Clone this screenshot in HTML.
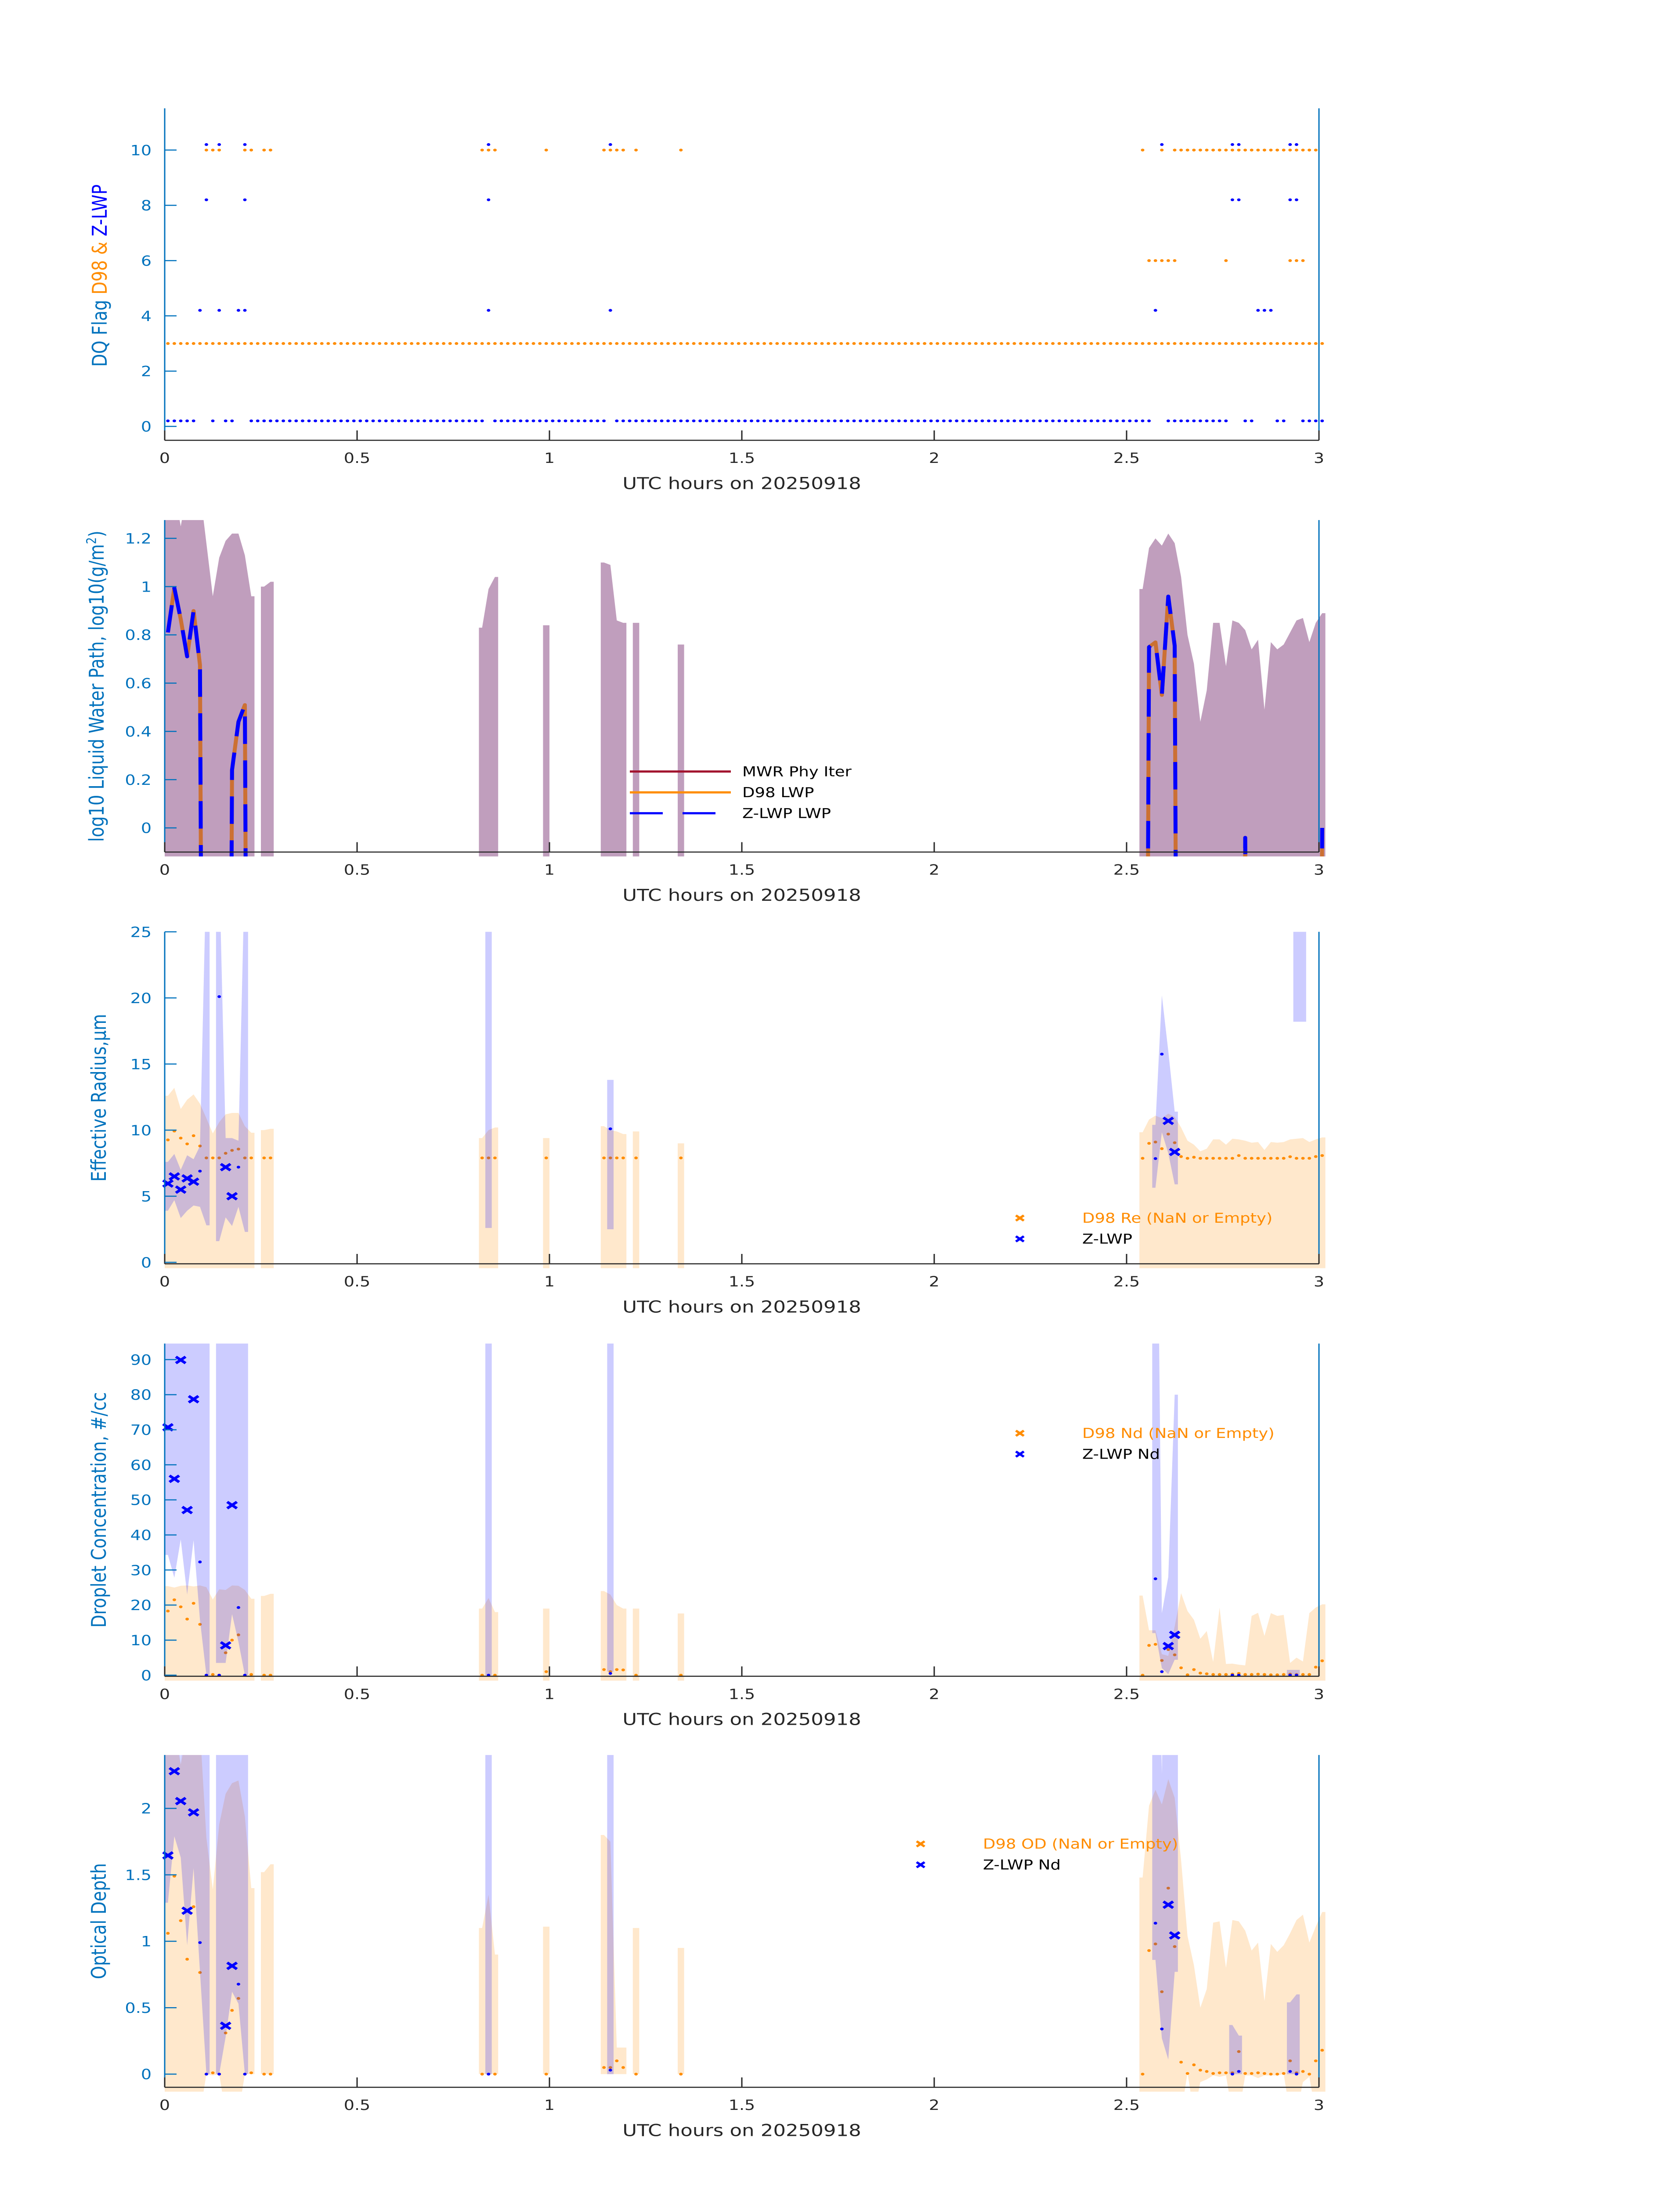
<!DOCTYPE html>
<html><head><meta charset="utf-8"><title>DQ flags and cloud retrievals</title>
<style>
html,body{margin:0;padding:0;background:#fff;width:100%;height:100%;overflow:hidden;}
svg{display:block;position:fixed;left:0;top:0;width:100vw;height:100vh;font-family:"DejaVu Sans","Liberation Sans",sans-serif;}
</style>
</head><body>
<svg id="chart" xmlns="http://www.w3.org/2000/svg" viewBox="0 0 3825 6000" preserveAspectRatio="none" overflow="hidden">
<rect x="0" y="0" width="3825" height="6000" fill="#fff"/>
</svg>
<script>
// ---------- shared axis ----------
const xTickVals = [0, 0.5, 1, 1.5, 2, 2.5, 3];
const xTickLabels = ['0', '0.5', '1', '1.5', '2', '2.5', '3'];
const xAxisTitle = 'UTC hours on 20250918';

// ---------- panel 1: DQ flags ----------
const d98Flag3Range = [0, 180];
const d98FlagLevelBase = 3;
const d98FlagLevelHigh = 10;
const d98FlagLevelMid = 6;
const d98Flag10Idx = [6,7,8,12,13,15,16,49,50,51,59,68,69,70,71,73,80,152,155,157,158,159,160,161,162,163,164,165,166,167,168,169,170,171,172,173,174,175,176,177,178,179];
const d98Flag6Idx = [153,154,155,156,157,165,175,176,177];
const zFlagOffset = 0.2;
const zFlag10Idx = [6,8,12,50,69,155,166,167,175,176];
const zFlag8Idx = [6,12,50,166,167,175,176];
const zFlag4Idx = [5,8,11,12,50,69,154,170,171,172];
const zFlag0Ranges = [[0,4],[7,7],[9,10],[13,49],[51,68],[70,153],[156,165],[168,169],[173,174],[177,180]];
const p1YTicks = [0,2,4,6,8,10];

// ---------- panel 2: LWP ----------
const mwrIdx = [0,1,2,3,4,5,6,7,8,9,10,11,12,13,15,16,49,50,51,59,68,69,70,71,73,80,152,153,154,155,156,157,158,159,160,161,162,163,164,165,166,167,168,169,170,171,172,173,174,175,176,177,178,179,180];
const mwrUpper = [1.4,1.4,1.25,1.4,1.4,1.4,1.18,0.96,1.12,1.19,1.22,1.22,1.13,0.96,1.0,1.02,0.83,0.99,1.04,0.84,1.1,1.09,0.86,0.85,0.85,0.76,0.99,1.16,1.2,1.17,1.22,1.18,1.04,0.80,0.68,0.44,0.57,0.85,0.85,0.67,0.86,0.85,0.82,0.74,0.78,0.49,0.77,0.74,0.76,0.81,0.86,0.87,0.77,0.85,0.89];
const lwpIdx = [0,1,2,3,4,5,6,7,8,9,10,11,12,13,152,153,154,155,156,157,158,167,168,169,179,180];
const d98Lwp = [0.81,0.995,0.865,0.71,0.90,0.675,-5,-5,-5,-5,0.24,0.44,0.51,-5,-5,0.75,0.77,0.55,0.96,0.755,-5,-5,-0.04,-5,-5,0.0];
const zLwp = [0.81,0.995,0.865,0.71,0.90,0.675,-5,-5,-5,-5,0.24,0.44,0.51,-5,-5,0.75,0.77,0.55,0.96,0.755,-5,-5,-0.04,-5,-5,0.0];
const p2YTicks = [0,0.2,0.4,0.6,0.8,1,1.2];
const p2YTickLabels = ['0','0.2','0.4','0.6','0.8','1','1.2'];

// ---------- panel 3: Re ----------
const d98Idx = [0,1,2,3,4,5,6,7,8,9,10,11,12,13,15,16,49,50,51,59,68,69,70,71,73,80,152,153,154,155,156,157,158,159,160,161,162,163,164,165,166,167,168,169,170,171,172,173,174,175,176,177,178,179,180];
const d98ReUpper = [12.6,13.2,11.6,12.3,12.7,12.0,10.9,9.75,10.6,11.2,11.3,11.3,10.3,9.8,10.0,10.1,9.4,10.0,10.2,9.4,10.3,10.0,9.9,9.7,9.9,9.0,9.84,10.8,11.1,10.9,11.25,11.0,10.2,9.2,8.9,8.4,8.6,9.3,9.3,8.9,9.35,9.3,9.2,9.05,9.1,8.5,9.1,9.05,9.1,9.3,9.35,9.4,9.1,9.3,9.45];
const d98Re = [9.26,9.93,9.4,8.96,9.58,8.8,7.9,7.9,7.9,8.25,8.47,8.57,7.9,7.9,7.9,7.9,7.9,7.9,7.9,7.9,7.9,7.9,7.9,7.9,7.9,7.9,7.87,9.0,9.1,8.6,9.7,9.05,8.0,7.87,7.95,7.87,7.87,7.87,7.87,7.87,7.87,8.08,7.87,7.87,7.87,7.87,7.87,7.87,7.87,7.99,7.87,7.87,7.87,8.0,8.08];
const zReFillIdx = [0,1,2,3,4,5,6,8,9,10,11,12,50,69,154,155,156,157,176,177];
const zReUpper = [7.6,8.2,7.0,8.1,7.8,8.8,30,30,9.4,9.4,9.2,30,30,13.8,10.4,20.2,16,11.4,30,30];
const zReLower = [3.9,4.7,3.35,3.9,4.3,4.2,2.8,1.6,3.4,2.75,4.2,2.3,2.6,2.5,5.64,9.84,8.25,5.9,18.2,18.2];
const zReXIdx = [0,1,2,3,4,9,10,156,157];
const zReX = [5.96,6.5,5.5,6.35,6.1,7.2,5.0,10.7,8.35];
const zReDotIdx = [5,8,11,69,154,155];
const zReDot = [6.9,20.1,7.2,10.1,7.85,15.75];
const p3YTicks = [0,5,10,15,20,25];

// ---------- panel 4: Nd ----------
const d98NdUpper = [25.4,25,25.5,25.6,25.3,25.6,25.1,21.6,24.5,24.3,25.6,25.5,24.3,21.8,22.6,23.2,19,22,18,19,24,23,20,19,19,17.6,22.7,12.8,12.8,6,5.5,13.9,23.4,18.3,15.8,10.4,12.6,3.8,19.3,3.2,3.3,3,2.8,16.9,17.8,11.2,17.7,16.9,17.2,3.5,5,3.9,17.7,19.3,20.2];
const d98Nd = [18.3,21.5,19.5,16,20.5,14.5,0,0.2,0,6.4,10,11.5,0,0.2,0,0,0,0,0,1,1.6,1,1.6,1.5,0,0,0,8.5,8.8,4.2,7.3,5.8,2.1,0.1,1.6,0.6,0.4,0.2,0.2,0.2,0.3,0.5,0.2,0.2,0.3,0.2,0.1,0.1,0.2,0.3,0.2,0.2,0.2,2.3,4.1];
const zNdFillIdx = [0,1,2,3,4,5,6,8,9,10,11,12,50,69,154,155,156,157,175,176];
const zNdUpper = [200,200,200,200,200,200,200,200,200,200,200,200,200,200,200,17.7,28,80,1.5,1.5];
const zNdLower = [34.3,27.8,38.7,23,38.5,15.7,0,3.5,3.5,17.4,9.5,0,0,1,12,2,0.3,4.4,0,0];
const zNdXIdx = [0,1,2,3,4,9,10,156,157];
const zNdX = [70.7,56,89.9,47.1,78.7,8.5,48.5,8.3,11.5];
const zNdDotIdx = [5,6,8,11,12,50,69,154,155,166,167,175,176];
const zNdDot = [32.3,0,0,19.3,0,0,0.5,27.5,1,0,0,0,0];
const p4YTicks = [0,10,20,30,40,50,60,70,80,90];

// ---------- panel 5: OD ----------
const d98OdUpper = [2.6,2.6,2.33,2.6,2.6,2.6,1.78,1.39,1.88,2.11,2.19,2.21,1.94,1.40,1.52,1.58,1.1,1.35,0.9,1.11,1.8,1.75,0.2,0.2,1.1,0.95,1.48,2.02,2.14,2.03,2.22,2.08,1.61,1.04,0.82,0.5,0.64,1.14,1.15,0.8,1.16,1.15,1.08,0.93,0.99,0.55,0.98,0.92,0.97,1.06,1.16,1.2,0.99,1.11,1.22];
const d98OdLower = [-0.3,-0.3,-0.3,-0.3,-0.3,-0.3,0,-0.01,0,-0.3,-0.3,-0.3,0,0,0,0,0,0,0,0,0,0,0,0,0,0,-0.3,-0.3,-0.3,-0.3,-0.3,-0.3,-0.3,0.01,-0.3,-0.06,-0.04,-0.01,-0.02,-0.01,-0.3,-0.3,-0.01,-0.01,-0.03,-0.01,-0.01,-0.01,0,-0.3,-0.3,-0.06,-0.02,-0.3,-0.3];
const d98Od = [1.06,1.49,1.155,0.865,1.26,0.765,0,0.01,0,0.31,0.48,0.57,0,0.01,0,0,0,0,0,0,0.05,0.05,0.1,0.05,0,0,0,0.93,0.98,0.62,1.40,0.96,0.09,0.005,0.07,0.03,0.02,0.005,0.01,0.01,0.01,0.17,0.005,0.005,0.01,0.005,0,0,0.005,0.1,0.01,0.02,0,0.1,0.18];
const zOdFillIdx = [0,1,2,3,4,5,6,8,9,10,11,12,50,69,154,155,156,157,166,167,175,176];
const zOdUpper = [5,5,2.33,5,5,5,5,5,5,5,5,5,5,5,5,2.26,5,5,0.37,0.29,0.54,0.6];
const zOdLower = [1.29,1.79,1.63,0.97,1.55,0.77,0,0,0.28,0.62,0.53,0,0,0,0.86,0.27,0.11,0.77,0,0,0,0];
const zOdXIdx = [0,1,2,3,4,9,10,156,157];
const zOdX = [1.646,2.28,2.055,1.23,1.97,0.364,0.815,1.275,1.044];
const zOdDotIdx = [5,6,8,11,12,50,69,154,155,166,167,175,176];
const zOdDot = [0.99,0,0,0.677,0,0,0.03,1.136,0.34,0,0.02,0.02,0];
const p5YTicks = [0,0.5,1,1.5,2];
const p5YTickLabels = ['0','0.5','1','1.5','2'];

// ---------- drawing ----------
const NS = 'http://www.w3.org/2000/svg';
const svg = document.getElementById('chart');
const AX_L = 375, AX_R = 3003;
const BLUEAX = '#0072BD', DARK = '#262626';
const ORANGE = '#FF8C00', BLUE = '#0000FF';
function mk(tag, attrs, parent) {
  const e = document.createElementNS(NS, tag);
  for (const k in attrs) e.setAttribute(k, attrs[k]);
  (parent || svg).appendChild(e);
  return e;
}
function xOfHour(h) { return AX_L + (AX_R - AX_L) * h / 3; }
function xOfIdx(i) { return xOfHour((i + 0.5) / 60); }

const panels = [
  {key:'dq', top:296, bottom:1203, zero:1165, ppu:75.5},
  {key:'lwp', top:1421, bottom:2328, zero:2262, ppu:659.2},
  {key:'re', top:2546, bottom:3453, zero:3449, ppu:36.12},
  {key:'nd', top:3671, bottom:4580, zero:4577, ppu:9.58},
  {key:'od', top:4795, bottom:5703, zero:5667, ppu:363}
];
function yOf(p, v) { return p.zero - v * p.ppu; }

const defs = mk('defs', {});
panels.forEach(function(p, k) {
  const cp = mk('clipPath', {id: 'clip' + k}, defs);
  mk('rect', {x: 360, y: p.top, width: 2665, height: p.bottom - p.top + 12}, cp);
});

function segmentsOf(idx) {
  const segs = []; let cur = [];
  idx.forEach(function(i, n) {
    if (cur.length && i !== idx[cur[cur.length - 1]] + 1) { segs.push(cur); cur = []; }
    cur.push(n);
  });
  if (cur.length) segs.push(cur);
  return segs;
}
function drawFill(p, g, idx, up, lo, color, name) {
  segmentsOf(idx).forEach(function(seg) {
    const pts = [];
    const first = seg[0], last = seg[seg.length - 1];
    pts.push([xOfIdx(idx[first]) - 7.3, yOf(p, up[first])]);
    seg.forEach(function(n) { pts.push([xOfIdx(idx[n]), yOf(p, up[n])]); });
    pts.push([xOfIdx(idx[last]) + 7.3, yOf(p, up[last])]);
    pts.push([xOfIdx(idx[last]) + 7.3, yOf(p, lo[last])]);
    for (let m = seg.length - 1; m >= 0; m--) pts.push([xOfIdx(idx[seg[m]]), yOf(p, lo[seg[m]])]);
    pts.push([xOfIdx(idx[first]) - 7.3, yOf(p, lo[first])]);
    const poly = mk('polygon', {points: pts.map(function(q){return q[0].toFixed(1)+','+q[1].toFixed(1);}).join(' '), fill: color}, g);
    
    
  });
}
function drawDots(p, g, idx, vals, color, name, off) {
  idx.forEach(function(i, n) {
    const d = mk('ellipse', {cx: xOfIdx(i).toFixed(1), cy: yOf(p, vals[n] + (off || 0)).toFixed(1), rx: 4, ry: 3.8, fill: color}, g);
    
    
  });
}
function xPath(cx, cy, s) {
  return 'M' + (cx - s) + ',' + (cy - s * 0.8) + 'L' + (cx + s) + ',' + (cy + s * 0.8) + 'M' + (cx - s) + ',' + (cy + s * 0.8) + 'L' + (cx + s) + ',' + (cy - s * 0.8);
}
function drawXs(p, g, idx, vals, name) {
  idx.forEach(function(i, n) {
    const m = mk('path', {d: xPath(xOfIdx(i), yOf(p, vals[n]), 11), stroke: BLUE, 'stroke-width': 7, fill: 'none'}, g);
    
    
  });
}
function drawAxes(p, k, yTicks, yLabels) {
  const g = mk('g', {});
  
  
  const left = mk('line', {x1: AX_L, y1: p.top, x2: AX_L, y2: p.bottom, stroke: BLUEAX, 'stroke-width': 3}, g);
  
  
  const right = mk('line', {x1: AX_R, y1: p.top, x2: AX_R, y2: p.bottom, stroke: BLUEAX, 'stroke-width': 3}, g);
  
  
  const bot = mk('line', {x1: AX_L, y1: p.bottom, x2: AX_R, y2: p.bottom, stroke: DARK, 'stroke-width': 3}, g);
  
  
  xTickVals.forEach(function(h, n) {
    const x = xOfHour(h);
    const t = mk('line', {x1: x, y1: p.bottom, x2: x, y2: p.bottom - 27, stroke: DARK, 'stroke-width': 3}, g);
    
    
    const lb = mk('text', {x: x, y: p.bottom + 62, 'font-size': 38, fill: DARK, 'text-anchor': 'middle'}, g);
    lb.textContent = xTickLabels[n];
    
    
  });
  const xt = mk('text', {x: 1689, y: p.bottom + 133, 'font-size': 45, fill: DARK, 'text-anchor': 'middle'}, g);
  xt.textContent = xAxisTitle;
  
  
  yTicks.forEach(function(v, n) {
    const y = yOf(p, v);
    const t = mk('line', {x1: AX_L, y1: y, x2: AX_L + 27, y2: y, stroke: BLUEAX, 'stroke-width': 3}, g);
    
    
    const lb = mk('text', {x: 345, y: y + 14, 'font-size': 38, fill: BLUEAX, 'text-anchor': 'end'}, g);
    lb.textContent = yLabels ? yLabels[n] : String(v);
    
    
  });
}
function yTitle(cx, cy, parts, name) {
  const t = mk('text', {x: 0, y: 0, 'font-size': 46, 'text-anchor': 'middle', transform: 'translate(' + cx + ',' + cy + ') rotate(-90)'});
  
  
  parts.forEach(function(pt) {
    const s = mk('tspan', {fill: pt[1]}, t);
    s.textContent = pt[0];
    if (pt[2]) { s.setAttribute('font-size', 30); s.setAttribute('baseline-shift', 'super'); }
  });
}
function legendText(x, y, txt, color, name) {
  const t = mk('text', {x: x, y: y + 13, 'font-size': 37, fill: color});
  t.textContent = txt;
  
  
}
function legendX(x, y, color, name) {
  const m = mk('path', {d: xPath(x, y, 9), stroke: color, 'stroke-width': 6, fill: 'none'});
  
  
}

// ----- panel 1 -----
(function() {
  const p = panels[0];
  const g = mk('g', {'clip-path': 'url(#clip0)'});
  
  
  const baseIdx = [];
  for (let i = d98Flag3Range[0]; i <= d98Flag3Range[1]; i++) baseIdx.push(i);
  drawDots(p, g, baseIdx, baseIdx.map(function(){return d98FlagLevelBase;}), ORANGE, 'd98-flag-3');
  drawDots(p, g, d98Flag10Idx, d98Flag10Idx.map(function(){return d98FlagLevelHigh;}), ORANGE, 'd98-flag-10');
  drawDots(p, g, d98Flag6Idx, d98Flag6Idx.map(function(){return d98FlagLevelMid;}), ORANGE, 'd98-flag-6');
  const z0 = [];
  zFlag0Ranges.forEach(function(r){ for (let i = r[0]; i <= r[1]; i++) z0.push(i); });
  drawDots(p, g, z0, z0.map(function(){return 0;}), BLUE, 'z-lwp-flag-0', zFlagOffset);
  drawDots(p, g, zFlag4Idx, zFlag4Idx.map(function(){return 4;}), BLUE, 'z-lwp-flag-4', zFlagOffset);
  drawDots(p, g, zFlag8Idx, zFlag8Idx.map(function(){return 8;}), BLUE, 'z-lwp-flag-8', zFlagOffset);
  drawDots(p, g, zFlag10Idx, zFlag10Idx.map(function(){return 10;}), BLUE, 'z-lwp-flag-10', zFlagOffset);
  drawAxes(p, 0, p1YTicks);
  yTitle(243, 753, [['DQ Flag  ', BLUEAX], ['D98 & ', ORANGE], [' Z-LWP', BLUE]], 'y-axis-title-dq');
})();

// ----- panel 2 -----
(function() {
  const p = panels[1];
  const g = mk('g', {'clip-path': 'url(#clip1)'});
  
  
  drawFill(p, g, mwrIdx, mwrUpper, mwrIdx.map(function(){return -0.3;}), '#C09EBD', 'mwr-phy-iter-band');
  function line(vals, color, dash, name) {
    segmentsOf(lwpIdx).forEach(function(seg) {
      const pts = seg.map(function(n){ return xOfIdx(lwpIdx[n]).toFixed(1) + ',' + yOf(p, vals[n]).toFixed(1); });
      const l = mk('polyline', {points: pts.join(' '), fill: 'none', stroke: color, 'stroke-width': 9, 'stroke-linejoin': 'round'}, g);
      if (dash) l.setAttribute('stroke-dasharray', dash);
      
      
    });
  }
  line(d98Lwp, '#CC7033', null, 'd98-lwp-line');
  line(zLwp, BLUE, '75 45', 'z-lwp-line');
  drawAxes(p, 1, p2YTicks, p2YTickLabels);
  yTitle(236, 1875, [['log10 Liquid Water Path, log10(g/m', BLUEAX], ['2', BLUEAX, true], [')', BLUEAX]], 'y-axis-title-lwp');
  const l1 = mk('line', {x1: 1434, y1: 2108, x2: 1664, y2: 2108, stroke: '#A2142F', 'stroke-width': 6});
  
  
  const l2 = mk('line', {x1: 1434, y1: 2165, x2: 1664, y2: 2165, stroke: ORANGE, 'stroke-width': 6});
  
  
  const l3 = mk('line', {x1: 1434, y1: 2222, x2: 1664, y2: 2222, stroke: BLUE, 'stroke-width': 6, 'stroke-dasharray': '75 45'});
  
  
  legendText(1690, 2108, 'MWR Phy Iter', '#000', 'legend-mwr-label');
  legendText(1690, 2165, 'D98 LWP', '#000', 'legend-d98-label');
  legendText(1690, 2222, 'Z-LWP LWP', '#000', 'legend-z-lwp-label');
})();

// ----- panels 3-5 -----
function retrievalPanel(k, oUp, oLo, oDots, zIdx, zUp, zLo, xIdx, xVals, dIdx, dVals, ticks, tickLabels, title, legend1, legend2, legY, legX) {
  const p = panels[k];
  const g = mk('g', {'clip-path': 'url(#clip' + k + ')'});
  
  
  drawFill(p, g, d98Idx, oUp, oLo, 'rgba(255,140,0,0.2)', 'd98-' + p.key + '-band');
  drawDots(p, g, d98Idx, oDots, ORANGE, 'd98-' + p.key + '-point');
  drawFill(p, g, zIdx, zUp, zLo, 'rgba(0,0,255,0.2)', 'z-lwp-' + p.key + '-band');
  drawDots(p, g, dIdx, dVals, BLUE, 'z-lwp-' + p.key + '-point');
  drawXs(p, g, xIdx, xVals, 'z-lwp-' + p.key + '-marker');
  drawAxes(p, k, ticks, tickLabels);
  yTitle(241, (p.top + p.bottom) / 2, [[title, BLUEAX]], 'y-axis-title-' + p.key);
  legendX(legX, legY, ORANGE, 'legend-d98-marker');
  legendX(legX, legY + 57, BLUE, 'legend-z-lwp-marker');
  legendText(legX + 142, legY, legend1, ORANGE, 'legend-d98-label');
  legendText(legX + 142, legY + 57, legend2, '#000', 'legend-z-lwp-label');
}
retrievalPanel(2, d98ReUpper, d98Idx.map(function(){return -1;}), d98Re, zReFillIdx, zReUpper, zReLower, zReXIdx, zReX, zReDotIdx, zReDot, p3YTicks, null, 'Effective Radius,\u03bcm', 'D98 Re (NaN or Empty)', 'Z-LWP', 3328, 2322);
retrievalPanel(3, d98NdUpper, d98Idx.map(function(){return -3;}), d98Nd, zNdFillIdx, zNdUpper, zNdLower, zNdXIdx, zNdX, zNdDotIdx, zNdDot, p4YTicks, null, 'Droplet Concentration, #/cc', 'D98 Nd (NaN or Empty)', 'Z-LWP Nd', 3916, 2322);
retrievalPanel(4, d98OdUpper, d98OdLower, d98Od, zOdFillIdx, zOdUpper, zOdLower, zOdXIdx, zOdX, zOdDotIdx, zOdDot, p5YTicks, p5YTickLabels, 'Optical Depth', 'D98 OD (NaN or Empty)', 'Z-LWP Nd', 5038, 2096);
</script>
</body></html>
